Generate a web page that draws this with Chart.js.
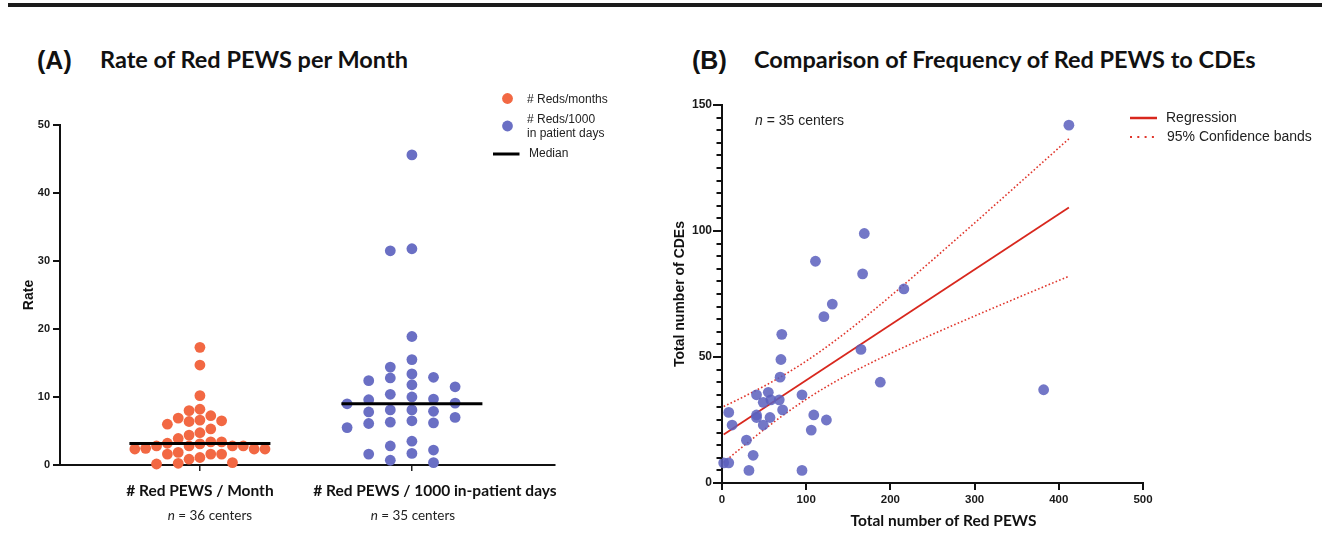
<!DOCTYPE html>
<html><head><meta charset="utf-8">
<script src="https://cdn.jsdelivr.net/npm/chart.js@4.4.1/dist/chart.umd.min.js"></script>
<style>
html,body{margin:0;padding:0;background:#fff;}
body{width:1342px;height:534px;position:relative;overflow:hidden;}
#rule{position:absolute;left:8px;top:3px;width:1314px;height:4px;background:#1b1b1b;}
.t{position:absolute;white-space:nowrap;color:#111;line-height:1;}
.lbl{font-family:"Liberation Sans",Arial,sans-serif;font-weight:bold;font-size:25px;}
.ttl{font-family:Lato,"Open Sans",sans-serif;font-weight:bold;font-size:23.5px;}
.wrap{position:absolute;top:0;width:671px;height:534px;}
</style></head>
<body>
<div id="rule"></div>
<div class="t lbl" style="left:37px;top:48px">(A)</div>
<div class="t ttl" style="left:100px;top:48px">Rate of Red PEWS per Month</div>
<div class="t lbl" style="left:692px;top:48px">(B)</div>
<div class="t ttl" style="left:754px;top:48px">Comparison of Frequency of Red PEWS to CDEs</div>
<div class="wrap" style="left:0"><canvas id="ca" width="671" height="534"></canvas></div>
<div class="wrap" style="left:671px"><canvas id="cb" width="671" height="534"></canvas></div>
<script>
// ---------------- DATA ----------------
const CATEGORIES_A = ['# Red PEWS / Month', '# Red PEWS / 1000 in-patient days'];
const CENTERS_A = ['n = 36 centers', 'n = 35 centers'];
const REDS_PER_MONTH = [17.3,14.7,10.2,8.0,8.2,6.6,6.0,6.5,7.25,6.9,6.4,5.3,4.4,4.75,3.9,3.2,3.4,3.4,3.1,2.8,2.8,2.35,2.8,2.45,2.35,2.8,2.35,1.85,1.6,1.6,1.6,0.85,1.1,0.15,0.35,0.25];
const REDS_PER_1000_DAYS = [45.6,31.8,31.5,18.9,15.5,13.4,14.4,11.8,12.9,12.4,12.8,11.5,10.4,9.6,9.1,10.0,9.7,9.0,8.1,7.9,7.8,8.1,6.5,5.5,6.1,6.2,6.3,7.0,2.2,1.7,2.8,3.5,1.6,0.35,0.7];
const RATE_TICKS = [0,10,20,30,40,50];
const LEGEND_A = ['# Reds/months', '# Reds/1000', 'in patient days', 'Median'];

const TOTAL_RED_PEWS = [169,111,167,131,121,71,165,70,69,188,41,55,95,49,58,68,8,72,41,41,57,109,12,49,124,106,29,37,2,8,32,95,412,216,382];
const TOTAL_CDES     = [99,88,83,71,66,59,53,49,42,40,35,36,35,32,33,33,28,29,27,26,26,27,23,23,25,21,17,11,8,8,5,5,142,77,37];
const PEWS_TICKS = [0,100,200,300,400,500];
const CDE_TICKS = [0,50,100,150];
const CENTERS_B = 'n = 35 centers';
const LEGEND_B = ['Regression', '95% Confidence bands'];

// ---------------- STYLE ----------------
const RED = '#F26843', BLUE = '#6A6FC4', BLUE_T = 'rgba(92,97,190,0.86)';
const REG = '#D8271D', BAND = '#E0362C';
const ARIAL = '"Liberation Sans", Arial, sans-serif';
const CAL = 'Lato, "Open Sans", sans-serif';
const DOT = 10.8, MED_HALF_PX = 70.5;

// ---------------- HELPERS ----------------
function median(a){const s=[...a].sort((p,q)=>p-q);const m=s.length>>1;return s.length%2?s[m]:(s[m-1]+s[m])/2;}
function swarmSlots(values, pxPerUnit, minGap){
  const idx=values.map((v,i)=>i).sort((a,b)=>values[b]-values[a]);
  const cols=new Map(), slots=new Array(values.length);
  for(const i of idx){
    const y=values[i]*pxPerUnit;
    for(let k=0;;k++){
      const s=k===0?0:(k%2?-Math.ceil(k/2):k/2);
      const list=cols.get(s)||[];
      if(list.every(o=>Math.abs(o-y)>=minGap)){list.push(y);cols.set(s,list);slots[i]=s;break;}
    }
  }
  return slots;
}
function tQuantile975(df){ // Cornish-Fisher expansion
  const z=1.959964, z3=z*z*z, z5=z3*z*z;
  return z+(z3+z)/(4*df)+(5*z5+16*z3+3*z)/(96*df*df);
}
function linreg(xs,ys){
  const n=xs.length, mx=xs.reduce((a,b)=>a+b,0)/n, my=ys.reduce((a,b)=>a+b,0)/n;
  let sxx=0,sxy=0,syy=0;
  for(let i=0;i<n;i++){const dx=xs[i]-mx,dy=ys[i]-my;sxx+=dx*dx;sxy+=dx*dy;syy+=dy*dy;}
  const b=sxy/sxx, a=my-b*mx, s=Math.sqrt((syy-b*sxy)/(n-2));
  return {n,mx,sxx,a,b,s};
}
function drawItalicN(ctx, text, x, y, size, family, align){
  const a=text.slice(0,1), b=text.slice(1);
  ctx.font=`italic ${size}px ${family}`; const wa=ctx.measureText(a).width;
  ctx.font=`${size}px ${family}`; const wb=ctx.measureText(b).width;
  const x0 = align==='center' ? x-(wa+wb)/2 : x;
  ctx.textAlign='left';
  ctx.font=`italic ${size}px ${family}`; ctx.fillText(a,x0,y);
  ctx.font=`${size}px ${family}`; ctx.fillText(b,x0+wa,y);
}

Chart.defaults.font.family = ARIAL;

// ---------------- PANEL A ----------------
const panelAPlugin = {
  id:'panelA',
  afterDraw(chart){
    const {ctx, chartArea:ca, scales:{x}} = chart;
    ctx.save();
    ctx.fillStyle='#111'; ctx.textBaseline='middle';
    ctx.save(); ctx.translate(29,(ca.top+ca.bottom)/2); ctx.rotate(-Math.PI/2);
    ctx.font=`bold 14px ${ARIAL}`; ctx.textAlign='center'; ctx.fillText('Rate',0,0); ctx.restore();
    const shift=[0,23], nshift=[10,1];
    CATEGORIES_A.forEach((c,i)=>{
      const px=x.getPixelForValue(i+1);
      ctx.font=`bold 15.5px ${CAL}`; ctx.textAlign='center'; ctx.fillStyle='#111';
      ctx.fillText(c, px+shift[i], 491);
      ctx.fillStyle='#222';
      drawItalicN(ctx, CENTERS_A[i], px+nshift[i], 516, 13.5, CAL, 'center');
    });
    ctx.fillStyle=RED; ctx.beginPath(); ctx.arc(507.5,98.5,5.4,0,Math.PI*2); ctx.fill();
    ctx.fillStyle=BLUE; ctx.beginPath(); ctx.arc(507.5,126,5.4,0,Math.PI*2); ctx.fill();
    ctx.strokeStyle='#000'; ctx.lineWidth=3; ctx.beginPath(); ctx.moveTo(493,154); ctx.lineTo(519.5,154); ctx.stroke();
    ctx.fillStyle='#222'; ctx.font=`12px ${ARIAL}`; ctx.textAlign='left';
    ctx.fillText(LEGEND_A[0],527,100);
    ctx.fillText(LEGEND_A[1],527,120);
    ctx.fillText(LEGEND_A[2],527,133.5);
    ctx.fillText(LEGEND_A[3],529,154);
    ctx.restore();
  }
};

const chartA = new Chart(document.getElementById('ca'), {
  type:'scatter',
  data:{datasets:[
    {label:LEGEND_A[0], data:[], backgroundColor:RED, pointRadius:5.4, borderWidth:0, clip:false, order:2},
    {label:LEGEND_A[1], data:[], backgroundColor:BLUE, pointRadius:5.4, borderWidth:0, clip:false, order:2},
    {type:'line', label:'Median', data:[], borderColor:'#000', borderWidth:3, pointRadius:0, clip:false, order:1},
    {type:'line', label:'Median ', data:[], borderColor:'#000', borderWidth:3, pointRadius:0, clip:false, order:1}
  ]},
  options:{
    responsive:false, animation:false, events:[],
    layout:{padding:{left:0,right:116,top:125,bottom:0}},
    plugins:{legend:{display:false},tooltip:{enabled:false}},
    scales:{
      x:{type:'linear', min:0.34, max:2.675,
        afterBuildTicks(ax){ax.ticks=[{value:1},{value:2}];},
        afterFit(ax){ax.height=69;},
        ticks:{display:false},
        grid:{drawOnChartArea:false, drawTicks:true, tickLength:6, color:'#222', lineWidth:1.5},
        border:{display:true,color:'#111',width:2}},
      y:{type:'linear', min:0, max:50,
        afterBuildTicks(ax){ax.ticks=RATE_TICKS.map(v=>({value:v}));},
        afterFit(ax){ax.width=60;},
        ticks:{font:{family:ARIAL,size:11,weight:'bold'}, color:'#1a1a1a', padding:3},
        grid:{drawOnChartArea:false, tickLength:7, color:'#111', lineWidth:2},
        border:{display:true,color:'#111',width:2}}
    }
  },
  plugins:[panelAPlugin]
});
(function(){
  const xa=chartA.scales.x, ya=chartA.scales.y;
  const pxX=xa.getPixelForValue(1)-xa.getPixelForValue(0);
  const pxY=ya.getPixelForValue(0)-ya.getPixelForValue(1);
  const half=MED_HALF_PX/pxX;
  const place=(vals,c)=>{
    const s=swarmSlots(vals,pxY,DOT);
    const nCols=Math.max(...s)-Math.min(...s)+1;
    const pitchPx=Math.max(DOT, Math.min(2*DOT, 2*MED_HALF_PX/nCols));
    return vals.map((v,i)=>({x:c+s[i]*pitchPx/pxX,y:v}));
  };
  chartA.data.datasets[0].data=place(REDS_PER_MONTH,1);
  chartA.data.datasets[1].data=place(REDS_PER_1000_DAYS,2);
  const m1=median(REDS_PER_MONTH), m2=median(REDS_PER_1000_DAYS);
  chartA.data.datasets[2].data=[{x:1-half,y:m1},{x:1+half,y:m1}];
  chartA.data.datasets[3].data=[{x:2-half,y:m2},{x:2+half,y:m2}];
  chartA.update('none');
})();

// ---------------- PANEL B ----------------
const fit=linreg(TOTAL_RED_PEWS,TOTAL_CDES);
const tcrit=tQuantile975(fit.n-2);
const xmin=Math.min(...TOTAL_RED_PEWS), xmax=Math.max(...TOTAL_RED_PEWS);
const regLine=[{x:xmin,y:fit.a+fit.b*xmin},{x:xmax,y:fit.a+fit.b*xmax}];
const upper=[], lower=[];
for(let k=0;k<=60;k++){
  const xv=xmin+(xmax-xmin)*k/60, yv=fit.a+fit.b*xv;
  const h=tcrit*fit.s*Math.sqrt(1/fit.n+(xv-fit.mx)**2/fit.sxx);
  upper.push({x:xv,y:yv+h}); lower.push({x:xv,y:yv-h});
}

const panelBPlugin = {
  id:'panelB',
  afterDraw(chart){
    const {ctx, chartArea:ca, scales:{y}} = chart;
    ctx.save();
    ctx.strokeStyle='#111'; ctx.lineWidth=2;
    for(let v=5; v<150; v+=5){
      if(v%50===0) continue;
      const py=Math.round(y.getPixelForValue(v));
      ctx.beginPath(); ctx.moveTo(ca.left-5.5,py); ctx.lineTo(ca.left,py); ctx.stroke();
    }
    ctx.fillStyle='#111'; ctx.textBaseline='middle';
    ctx.save(); ctx.translate(9,(ca.top+ca.bottom)/2); ctx.rotate(-Math.PI/2);
    ctx.font=`bold 14px ${ARIAL}`; ctx.textAlign='center'; ctx.fillText('Total number of CDEs',0,0); ctx.restore();
    ctx.font=`bold 15.5px ${CAL}`; ctx.textAlign='center';
    ctx.fillText('Total number of Red PEWS', (ca.left+ca.right)/2+11, 521);
    ctx.fillStyle='#222';
    drawItalicN(ctx, CENTERS_B, 84, 121, 14, ARIAL, 'left');
    ctx.strokeStyle=REG; ctx.lineWidth=2.5; ctx.beginPath(); ctx.moveTo(459,118); ctx.lineTo(486,118); ctx.stroke();
    ctx.strokeStyle=BAND; ctx.lineWidth=2; ctx.setLineDash([2,5.3]); ctx.beginPath(); ctx.moveTo(459,137); ctx.lineTo(487,137); ctx.stroke(); ctx.setLineDash([]);
    ctx.fillStyle='#222'; ctx.font=`14px ${ARIAL}`; ctx.textAlign='left';
    ctx.fillText(LEGEND_B[0],495,118);
    ctx.fillText(LEGEND_B[1],496,137);
    ctx.restore();
  }
};

const chartB = new Chart(document.getElementById('cb'), {
  type:'scatter',
  data:{datasets:[
    {label:'Centers', data:TOTAL_RED_PEWS.map((xv,i)=>({x:xv,y:TOTAL_CDES[i]})), backgroundColor:BLUE_T, pointRadius:5.4, borderWidth:0, clip:false, order:1},
    {type:'line', label:LEGEND_B[0], data:regLine, borderColor:REG, borderWidth:1.8, pointRadius:0, order:2},
    {type:'line', label:LEGEND_B[1], data:upper, borderColor:BAND, borderWidth:1.6, borderDash:[1.6,2.2], pointRadius:0, order:2},
    {type:'line', label:LEGEND_B[1]+' ', data:lower, borderColor:BAND, borderWidth:1.6, borderDash:[1.6,2.2], pointRadius:0, order:2}
  ]},
  options:{
    responsive:false, animation:false, events:[],
    layout:{padding:{left:0,right:199,top:105,bottom:0}},
    plugins:{legend:{display:false},tooltip:{enabled:false}},
    scales:{
      x:{type:'linear', min:0, max:500,
        afterBuildTicks(ax){ax.ticks=PEWS_TICKS.map(v=>({value:v}));},
        afterFit(ax){ax.height=51;},
        ticks:{font:{family:ARIAL,size:11.5,weight:'bold'}, color:'#1a1a1a', padding:3},
        grid:{drawOnChartArea:false, tickLength:7, color:'#111', lineWidth:2},
        border:{display:true,color:'#111',width:2}},
      y:{type:'linear', min:0, max:150,
        afterBuildTicks(ax){ax.ticks=CDE_TICKS.map(v=>({value:v}));},
        afterFit(ax){ax.width=51;},
        ticks:{font:{family:ARIAL,size:12,weight:'bold'}, color:'#1a1a1a', padding:1},
        grid:{drawOnChartArea:false, tickLength:9, color:'#111', lineWidth:2},
        border:{display:true,color:'#111',width:2}}
    }
  },
  plugins:[panelBPlugin]
});
</script>
</body></html>
